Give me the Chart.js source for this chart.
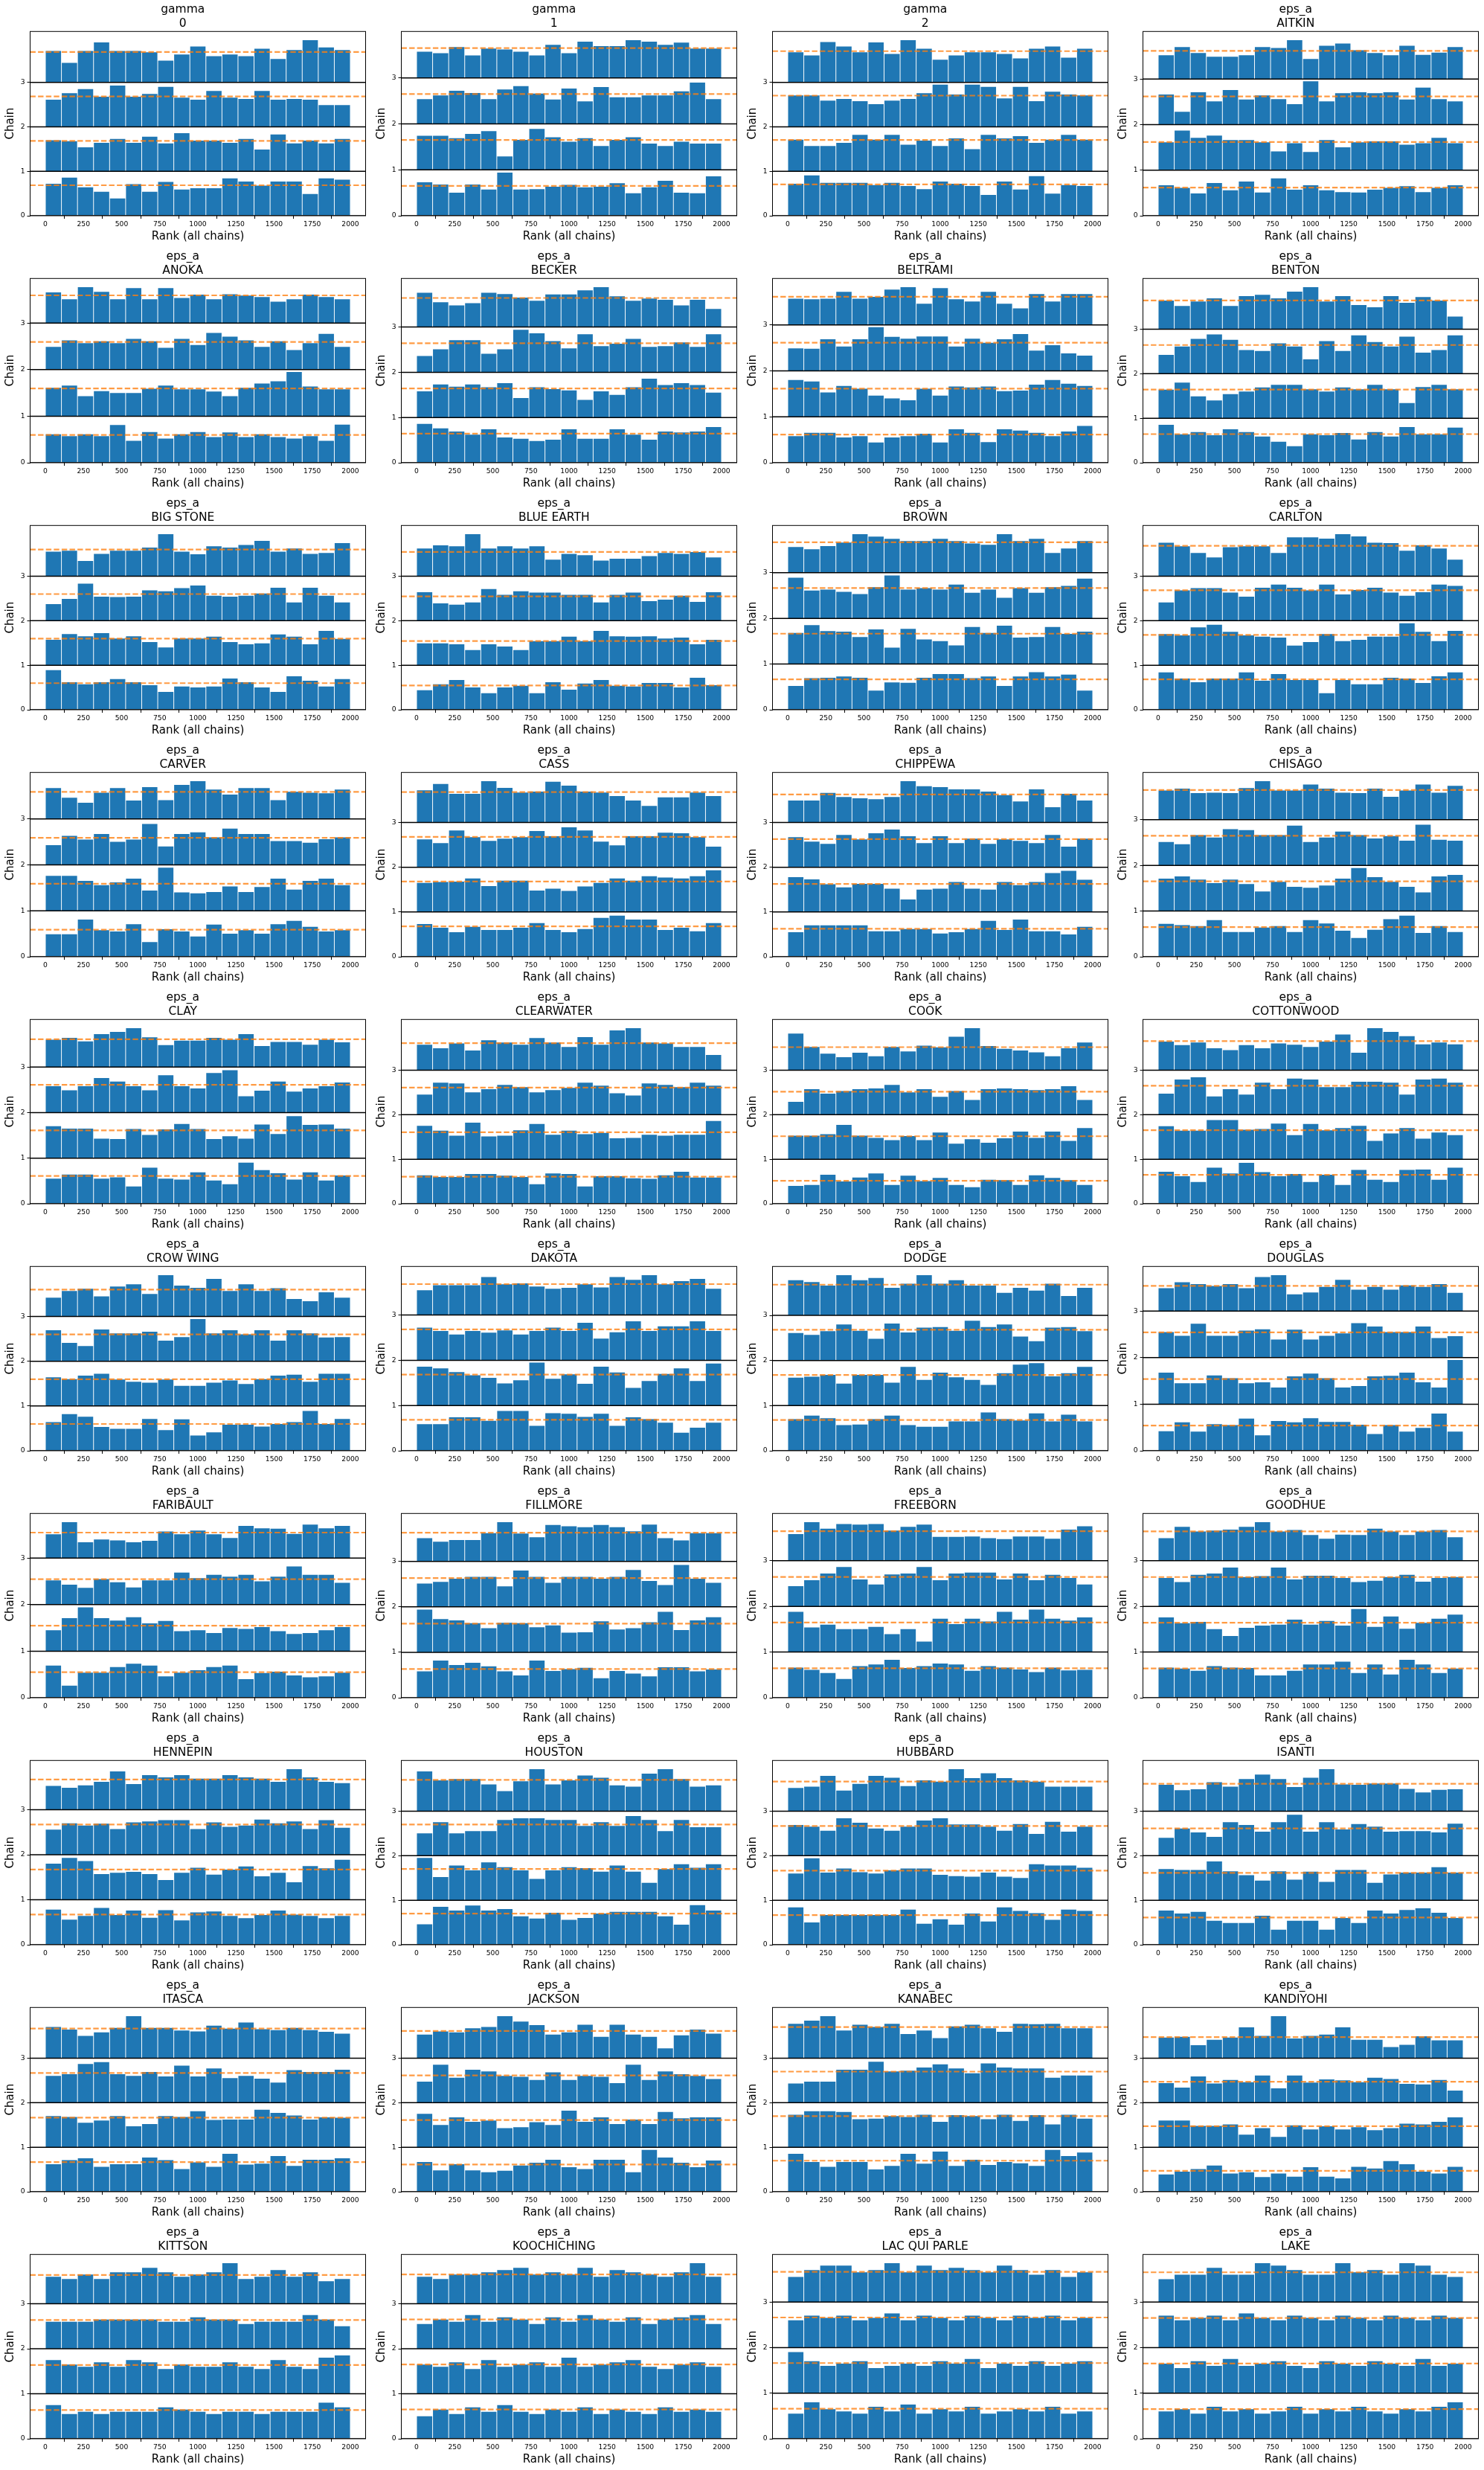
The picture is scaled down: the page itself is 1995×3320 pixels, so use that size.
<!DOCTYPE html>
<html><head><meta charset="utf-8">
<script src="https://cdn.jsdelivr.net/npm/chart.js@4/dist/chart.umd.min.js"></script>
<style>
html,body{margin:0;padding:0;background:#fff;}
#fig{position:relative;width:1995px;height:3320px;background:#fff;}
#fig canvas{position:absolute;}
</style></head><body><div id="fig"></div>
<script>
// ---------------- data ----------------
const rankMax = 2000;          // total draws (4 chains x 500)
const nBins = 19;              // histogram bins
const xTicks = [0, 250, 500, 750, 1000, 1250, 1500, 1750, 2000];
const yTickLabels = ['0', '1', '2', '3'];
const xLabel = 'Rank (all chains)';
const yLabel = 'Chain';

// each array: [chain0, chain1, chain2, chain3] bar heights (in units of chain spacing)
const GAMMA_0 = [
 [0.72,0.86,0.64,0.54,0.39,0.71,0.54,0.76,0.59,0.62,0.62,0.84,0.77,0.68,0.77,0.77,0.49,0.84,0.81],
 [0.70,0.68,0.54,0.64,0.73,0.64,0.78,0.63,0.86,0.69,0.69,0.64,0.73,0.49,0.83,0.63,0.69,0.63,0.73],
 [0.61,0.76,0.85,0.68,0.93,0.68,0.74,0.90,0.66,0.61,0.81,0.66,0.63,0.81,0.61,0.63,0.61,0.49,0.49],
 [0.71,0.44,0.71,0.90,0.71,0.71,0.68,0.49,0.63,0.81,0.59,0.63,0.59,0.76,0.53,0.73,0.95,0.79,0.73]];
const GAMMA_1 = [
 [0.73,0.68,0.50,0.68,0.57,0.94,0.57,0.58,0.63,0.67,0.62,0.63,0.71,0.49,0.62,0.76,0.50,0.49,0.86],
 [0.74,0.74,0.69,0.78,0.84,0.29,0.65,0.89,0.71,0.61,0.69,0.52,0.65,0.71,0.57,0.52,0.61,0.57,0.57],
 [0.54,0.62,0.72,0.67,0.54,0.75,0.82,0.66,0.53,0.77,0.49,0.80,0.58,0.58,0.62,0.62,0.71,0.90,0.54],
 [0.57,0.54,0.67,0.49,0.64,0.62,0.57,0.49,0.72,0.54,0.79,0.69,0.69,0.82,0.79,0.72,0.77,0.64,0.64]];
const GAMMA_2 = [
 [0.72,0.91,0.74,0.74,0.74,0.69,0.74,0.67,0.60,0.77,0.72,0.67,0.47,0.77,0.59,0.89,0.50,0.69,0.67],
 [0.71,0.57,0.57,0.64,0.82,0.71,0.82,0.60,0.69,0.57,0.74,0.50,0.82,0.74,0.79,0.64,0.71,0.82,0.71],
 [0.71,0.71,0.59,0.63,0.58,0.51,0.59,0.63,0.76,0.95,0.73,0.95,0.90,0.64,0.90,0.58,0.79,0.73,0.71],
 [0.68,0.61,0.91,0.81,0.68,0.90,0.64,0.95,0.76,0.51,0.61,0.68,0.68,0.64,0.54,0.76,0.81,0.56,0.76]];
const AITKIN = [
 [0.67,0.61,0.49,0.72,0.56,0.75,0.51,0.82,0.57,0.67,0.56,0.52,0.51,0.57,0.61,0.65,0.52,0.61,0.67],
 [0.61,0.87,0.71,0.76,0.66,0.66,0.61,0.41,0.59,0.40,0.66,0.50,0.61,0.63,0.63,0.56,0.59,0.71,0.59],
 [0.66,0.28,0.71,0.51,0.76,0.55,0.64,0.56,0.45,0.95,0.51,0.69,0.71,0.69,0.71,0.55,0.81,0.56,0.51],
 [0.52,0.70,0.57,0.49,0.49,0.52,0.70,0.68,0.85,0.44,0.73,0.78,0.63,0.57,0.52,0.73,0.53,0.58,0.70]];
const ANOKA = [
 [0.61,0.57,0.61,0.57,0.81,0.47,0.66,0.52,0.61,0.66,0.55,0.65,0.55,0.61,0.55,0.52,0.57,0.47,0.82],
 [0.61,0.66,0.43,0.54,0.50,0.50,0.59,0.66,0.58,0.58,0.53,0.43,0.61,0.70,0.75,0.95,0.64,0.58,0.58],
 [0.49,0.63,0.57,0.61,0.57,0.66,0.61,0.47,0.66,0.53,0.79,0.71,0.63,0.49,0.61,0.42,0.57,0.77,0.49],
 [0.66,0.51,0.77,0.67,0.51,0.75,0.51,0.75,0.54,0.61,0.51,0.62,0.59,0.56,0.46,0.51,0.61,0.56,0.51]];
const BECKER = [
 [0.86,0.76,0.69,0.62,0.74,0.56,0.53,0.48,0.51,0.74,0.53,0.53,0.74,0.62,0.51,0.69,0.67,0.69,0.79],
 [0.58,0.73,0.68,0.73,0.67,0.76,0.43,0.67,0.63,0.60,0.39,0.58,0.50,0.67,0.86,0.72,0.76,0.72,0.55],
 [0.36,0.51,0.71,0.71,0.41,0.51,0.94,0.86,0.69,0.53,0.84,0.58,0.63,0.74,0.56,0.58,0.66,0.56,0.84],
 [0.76,0.55,0.48,0.53,0.76,0.73,0.65,0.58,0.72,0.72,0.81,0.88,0.68,0.58,0.63,0.60,0.48,0.60,0.40]];
const BELTRAMI = [
 [0.58,0.65,0.65,0.55,0.58,0.44,0.55,0.58,0.63,0.44,0.73,0.65,0.45,0.73,0.70,0.65,0.58,0.68,0.80],
 [0.80,0.77,0.53,0.67,0.61,0.46,0.40,0.36,0.61,0.46,0.66,0.64,0.66,0.56,0.57,0.70,0.80,0.72,0.67],
 [0.49,0.48,0.69,0.53,0.69,0.95,0.74,0.70,0.75,0.75,0.53,0.70,0.61,0.69,0.80,0.44,0.56,0.38,0.33],
 [0.57,0.56,0.57,0.72,0.57,0.61,0.77,0.82,0.46,0.80,0.56,0.51,0.72,0.46,0.36,0.67,0.51,0.67,0.67]];
const BENTON = [
 [0.85,0.64,0.69,0.62,0.75,0.69,0.59,0.47,0.37,0.64,0.62,0.67,0.52,0.69,0.59,0.80,0.64,0.64,0.79],
 [0.64,0.80,0.49,0.40,0.54,0.60,0.69,0.75,0.75,0.65,0.60,0.69,0.65,0.75,0.65,0.34,0.70,0.75,0.65],
 [0.42,0.61,0.78,0.88,0.76,0.53,0.51,0.68,0.61,0.32,0.73,0.51,0.86,0.71,0.61,0.83,0.47,0.53,0.86],
 [0.64,0.52,0.62,0.69,0.52,0.74,0.77,0.69,0.84,0.94,0.62,0.74,0.54,0.49,0.74,0.59,0.72,0.64,0.28]];
const BIG_STONE = [
 [0.89,0.62,0.57,0.62,0.69,0.62,0.55,0.40,0.52,0.50,0.52,0.70,0.62,0.50,0.40,0.75,0.65,0.52,0.69],
 [0.57,0.70,0.65,0.72,0.60,0.65,0.52,0.40,0.60,0.60,0.64,0.52,0.47,0.49,0.69,0.64,0.47,0.77,0.59],
 [0.37,0.49,0.83,0.54,0.53,0.54,0.68,0.66,0.73,0.79,0.56,0.54,0.56,0.61,0.74,0.41,0.74,0.56,0.41],
 [0.55,0.57,0.34,0.50,0.57,0.57,0.64,0.94,0.55,0.49,0.67,0.64,0.70,0.79,0.55,0.62,0.50,0.52,0.74]];
const BLUE_EARTH = [
 [0.44,0.57,0.67,0.50,0.37,0.50,0.54,0.37,0.62,0.45,0.59,0.67,0.54,0.52,0.60,0.60,0.50,0.72,0.55],
 [0.49,0.49,0.47,0.34,0.47,0.42,0.34,0.54,0.54,0.64,0.54,0.77,0.65,0.64,0.65,0.60,0.62,0.47,0.57],
 [0.64,0.39,0.36,0.41,0.71,0.58,0.66,0.63,0.63,0.58,0.58,0.41,0.58,0.63,0.44,0.47,0.56,0.42,0.64],
 [0.62,0.69,0.67,0.94,0.62,0.67,0.62,0.67,0.37,0.50,0.47,0.35,0.39,0.39,0.45,0.52,0.50,0.54,0.42]];
const BROWN = [
 [0.52,0.69,0.70,0.73,0.70,0.42,0.60,0.59,0.70,0.78,0.78,0.69,0.73,0.52,0.73,0.82,0.73,0.77,0.42],
 [0.68,0.85,0.72,0.71,0.59,0.76,0.36,0.77,0.54,0.50,0.41,0.81,0.68,0.84,0.58,0.59,0.81,0.66,0.71],
 [0.89,0.61,0.63,0.58,0.53,0.68,0.94,0.63,0.66,0.63,0.74,0.56,0.63,0.45,0.66,0.56,0.68,0.71,0.87],
 [0.56,0.51,0.58,0.66,0.84,0.79,0.74,0.69,0.69,0.74,0.69,0.64,0.61,0.84,0.69,0.74,0.43,0.53,0.69]];
const CARLTON = [
 [0.84,0.70,0.62,0.70,0.70,0.84,0.65,0.80,0.67,0.67,0.37,0.67,0.57,0.57,0.72,0.70,0.60,0.75,0.84],
 [0.70,0.67,0.85,0.91,0.75,0.67,0.64,0.62,0.44,0.52,0.70,0.54,0.57,0.64,0.64,0.94,0.75,0.54,0.77],
 [0.41,0.68,0.73,0.73,0.63,0.54,0.74,0.81,0.74,0.68,0.81,0.59,0.69,0.74,0.63,0.56,0.64,0.81,0.78],
 [0.75,0.67,0.52,0.42,0.65,0.67,0.67,0.52,0.87,0.87,0.84,0.94,0.89,0.75,0.74,0.57,0.69,0.62,0.37]];
const CARVER = [
 [0.49,0.49,0.81,0.58,0.55,0.71,0.32,0.60,0.55,0.44,0.70,0.50,0.58,0.50,0.71,0.78,0.65,0.55,0.58],
 [0.76,0.76,0.65,0.56,0.62,0.70,0.44,0.94,0.40,0.38,0.41,0.53,0.41,0.52,0.70,0.46,0.65,0.70,0.56],
 [0.43,0.63,0.55,0.67,0.50,0.55,0.89,0.40,0.67,0.71,0.60,0.79,0.67,0.67,0.52,0.52,0.48,0.56,0.60],
 [0.67,0.46,0.35,0.57,0.67,0.40,0.69,0.41,0.74,0.82,0.64,0.53,0.67,0.67,0.41,0.59,0.57,0.56,0.64]];
const CASS = [
 [0.73,0.65,0.55,0.67,0.60,0.60,0.65,0.75,0.60,0.55,0.62,0.87,0.92,0.83,0.83,0.60,0.65,0.57,0.75],
 [0.65,0.67,0.68,0.75,0.58,0.70,0.70,0.48,0.52,0.47,0.57,0.65,0.75,0.70,0.80,0.77,0.75,0.80,0.93],
 [0.62,0.54,0.82,0.67,0.59,0.64,0.67,0.81,0.69,0.89,0.82,0.57,0.49,0.69,0.69,0.77,0.76,0.67,0.46],
 [0.72,0.86,0.64,0.64,0.92,0.77,0.67,0.69,0.91,0.82,0.69,0.67,0.59,0.49,0.37,0.56,0.56,0.67,0.59]];
const CHIPPEWA = [
 [0.55,0.70,0.70,0.70,0.70,0.57,0.57,0.62,0.62,0.52,0.55,0.62,0.80,0.60,0.83,0.57,0.57,0.50,0.67],
 [0.78,0.73,0.62,0.55,0.63,0.63,0.52,0.28,0.50,0.52,0.67,0.52,0.50,0.67,0.60,0.67,0.87,0.92,0.72],
 [0.67,0.57,0.52,0.72,0.62,0.76,0.84,0.69,0.54,0.69,0.54,0.64,0.52,0.62,0.59,0.54,0.72,0.46,0.64],
 [0.49,0.49,0.66,0.57,0.54,0.52,0.57,0.92,0.81,0.79,0.74,0.74,0.69,0.61,0.47,0.74,0.34,0.64,0.49]];
const CHISAGO = [
 [0.72,0.69,0.67,0.80,0.54,0.54,0.64,0.67,0.54,0.80,0.73,0.57,0.41,0.59,0.82,0.90,0.52,0.67,0.54],
 [0.71,0.76,0.69,0.61,0.69,0.59,0.43,0.64,0.53,0.51,0.56,0.71,0.94,0.74,0.64,0.53,0.41,0.76,0.79],
 [0.51,0.46,0.66,0.61,0.79,0.77,0.66,0.66,0.87,0.51,0.61,0.74,0.66,0.59,0.64,0.54,0.89,0.56,0.54],
 [0.64,0.68,0.58,0.59,0.58,0.69,0.84,0.64,0.64,0.77,0.68,0.59,0.58,0.68,0.50,0.64,0.77,0.59,0.74]];
const CLAY = [
 [0.55,0.64,0.64,0.55,0.58,0.38,0.79,0.55,0.53,0.69,0.51,0.43,0.90,0.74,0.67,0.53,0.69,0.51,0.62],
 [0.70,0.65,0.65,0.43,0.42,0.64,0.51,0.63,0.75,0.64,0.42,0.48,0.43,0.74,0.53,0.92,0.73,0.74,0.65],
 [0.58,0.49,0.58,0.76,0.68,0.58,0.49,0.82,0.58,0.53,0.87,0.93,0.36,0.48,0.68,0.46,0.53,0.58,0.66],
 [0.60,0.64,0.56,0.72,0.77,0.85,0.65,0.48,0.58,0.58,0.64,0.60,0.72,0.46,0.55,0.55,0.49,0.60,0.54]];
const CLEARWATER = [
 [0.64,0.60,0.60,0.67,0.67,0.63,0.60,0.44,0.68,0.67,0.39,0.62,0.62,0.57,0.56,0.64,0.72,0.59,0.59],
 [0.75,0.64,0.53,0.82,0.51,0.53,0.65,0.79,0.55,0.64,0.56,0.59,0.47,0.48,0.55,0.53,0.55,0.55,0.86],
 [0.45,0.72,0.70,0.50,0.57,0.67,0.62,0.50,0.55,0.60,0.72,0.65,0.48,0.43,0.70,0.67,0.62,0.72,0.65],
 [0.57,0.49,0.60,0.44,0.67,0.62,0.57,0.72,0.62,0.52,0.74,0.57,0.89,0.94,0.62,0.60,0.52,0.52,0.34]];
const COOK = [
 [0.40,0.42,0.65,0.50,0.59,0.68,0.42,0.63,0.51,0.58,0.42,0.37,0.54,0.53,0.42,0.64,0.58,0.53,0.42],
 [0.53,0.53,0.56,0.77,0.53,0.48,0.43,0.52,0.43,0.60,0.35,0.45,0.37,0.47,0.62,0.48,0.62,0.41,0.70],
 [0.29,0.57,0.47,0.53,0.57,0.59,0.67,0.50,0.57,0.40,0.53,0.33,0.57,0.59,0.57,0.55,0.57,0.64,0.33],
 [0.82,0.52,0.37,0.29,0.39,0.31,0.52,0.42,0.55,0.51,0.75,0.94,0.54,0.48,0.44,0.40,0.31,0.49,0.62]];
const COTTONWOOD = [
 [0.72,0.62,0.49,0.81,0.68,0.92,0.71,0.62,0.67,0.49,0.65,0.42,0.76,0.54,0.49,0.76,0.77,0.54,0.81],
 [0.74,0.64,0.64,0.88,0.88,0.66,0.68,0.80,0.54,0.79,0.65,0.70,0.75,0.41,0.58,0.70,0.46,0.60,0.54],
 [0.47,0.79,0.84,0.41,0.57,0.45,0.72,0.57,0.81,0.79,0.62,0.62,0.74,0.74,0.72,0.45,0.79,0.81,0.72],
 [0.64,0.56,0.62,0.49,0.45,0.56,0.49,0.60,0.57,0.52,0.64,0.80,0.39,0.94,0.86,0.76,0.58,0.62,0.58]];
const CROW_WING = [
 [0.64,0.82,0.76,0.53,0.49,0.49,0.71,0.46,0.70,0.34,0.41,0.58,0.58,0.54,0.60,0.64,0.89,0.60,0.71],
 [0.64,0.60,0.68,0.72,0.59,0.54,0.52,0.59,0.45,0.45,0.52,0.57,0.49,0.60,0.68,0.70,0.54,0.72,0.72],
 [0.69,0.41,0.34,0.71,0.62,0.62,0.66,0.46,0.54,0.94,0.62,0.69,0.60,0.69,0.46,0.69,0.62,0.53,0.54],
 [0.42,0.57,0.62,0.45,0.67,0.72,0.50,0.92,0.69,0.64,0.84,0.57,0.72,0.57,0.63,0.39,0.34,0.54,0.42]];
const DAKOTA = [
 [0.59,0.59,0.74,0.74,0.66,0.88,0.88,0.55,0.83,0.82,0.75,0.82,0.55,0.74,0.70,0.62,0.40,0.51,0.62],
 [0.86,0.82,0.74,0.67,0.61,0.49,0.56,0.95,0.59,0.69,0.48,0.86,0.73,0.39,0.54,0.70,0.82,0.54,0.93],
 [0.72,0.65,0.57,0.65,0.61,0.66,0.57,0.65,0.72,0.65,0.83,0.48,0.62,0.86,0.65,0.75,0.75,0.86,0.65],
 [0.55,0.66,0.66,0.66,0.84,0.68,0.70,0.63,0.58,0.60,0.68,0.61,0.84,0.78,0.88,0.68,0.75,0.80,0.58]];
const DODGE = [
 [0.70,0.78,0.72,0.57,0.58,0.70,0.78,0.57,0.53,0.53,0.65,0.65,0.85,0.70,0.67,0.83,0.65,0.80,0.65],
 [0.62,0.64,0.68,0.49,0.68,0.68,0.51,0.86,0.57,0.73,0.63,0.57,0.46,0.72,0.91,0.94,0.65,0.72,0.86],
 [0.61,0.57,0.65,0.80,0.66,0.48,0.82,0.62,0.73,0.74,0.66,0.88,0.74,0.80,0.53,0.43,0.73,0.74,0.65],
 [0.78,0.74,0.66,0.89,0.78,0.83,0.61,0.70,0.89,0.70,0.78,0.66,0.66,0.50,0.61,0.55,0.70,0.43,0.61]];
const DOUGLAS = [
 [0.42,0.61,0.41,0.57,0.55,0.69,0.33,0.64,0.61,0.70,0.62,0.62,0.56,0.36,0.55,0.41,0.49,0.80,0.41],
 [0.68,0.45,0.45,0.62,0.56,0.45,0.47,0.36,0.60,0.66,0.56,0.36,0.39,0.60,0.61,0.68,0.47,0.36,0.95],
 [0.55,0.47,0.73,0.47,0.47,0.58,0.61,0.39,0.60,0.39,0.47,0.52,0.74,0.67,0.55,0.55,0.67,0.42,0.46],
 [0.49,0.62,0.58,0.54,0.58,0.49,0.73,0.77,0.36,0.40,0.52,0.67,0.46,0.52,0.46,0.55,0.52,0.58,0.39]];
const FARIBAULT = [
 [0.69,0.26,0.54,0.54,0.66,0.73,0.69,0.46,0.54,0.59,0.66,0.69,0.40,0.53,0.56,0.48,0.44,0.46,0.54],
 [0.45,0.71,0.94,0.71,0.66,0.73,0.60,0.65,0.43,0.45,0.39,0.50,0.48,0.52,0.43,0.37,0.39,0.45,0.52],
 [0.52,0.43,0.36,0.55,0.48,0.37,0.52,0.52,0.69,0.57,0.64,0.60,0.64,0.50,0.60,0.82,0.64,0.64,0.47],
 [0.51,0.77,0.34,0.40,0.38,0.34,0.37,0.57,0.51,0.59,0.51,0.43,0.69,0.64,0.63,0.52,0.72,0.64,0.69]];
const FILLMORE = [
 [0.58,0.82,0.72,0.77,0.69,0.58,0.49,0.82,0.59,0.63,0.66,0.43,0.59,0.53,0.47,0.67,0.67,0.58,0.62],
 [0.94,0.73,0.70,0.64,0.53,0.65,0.64,0.55,0.59,0.43,0.44,0.68,0.50,0.53,0.66,0.89,0.49,0.70,0.77],
 [0.51,0.55,0.62,0.66,0.66,0.45,0.80,0.66,0.53,0.66,0.66,0.62,0.66,0.81,0.57,0.48,0.92,0.62,0.53],
 [0.51,0.43,0.47,0.47,0.62,0.86,0.61,0.53,0.80,0.77,0.75,0.80,0.75,0.66,0.81,0.51,0.46,0.62,0.62]];
const FREEBORN = [
 [0.66,0.61,0.54,0.41,0.69,0.73,0.83,0.65,0.69,0.75,0.73,0.59,0.69,0.66,0.62,0.56,0.66,0.60,0.61],
 [0.88,0.54,0.60,0.50,0.50,0.55,0.39,0.50,0.23,0.73,0.61,0.73,0.67,0.88,0.71,0.93,0.73,0.69,0.76],
 [0.44,0.57,0.72,0.86,0.59,0.48,0.70,0.72,0.86,0.57,0.72,0.74,0.74,0.59,0.72,0.57,0.69,0.62,0.48],
 [0.58,0.84,0.70,0.80,0.79,0.80,0.66,0.74,0.79,0.52,0.52,0.53,0.49,0.47,0.53,0.53,0.48,0.68,0.75]];
const GOODHUE = [
 [0.66,0.64,0.59,0.69,0.66,0.65,0.49,0.49,0.59,0.73,0.73,0.79,0.54,0.73,0.51,0.83,0.73,0.54,0.64],
 [0.76,0.63,0.66,0.50,0.35,0.53,0.58,0.60,0.71,0.60,0.68,0.58,0.94,0.55,0.78,0.51,0.64,0.73,0.82],
 [0.62,0.53,0.69,0.72,0.85,0.64,0.66,0.85,0.59,0.67,0.67,0.62,0.53,0.56,0.64,0.69,0.54,0.62,0.64],
 [0.49,0.74,0.64,0.66,0.68,0.74,0.84,0.64,0.67,0.56,0.48,0.57,0.56,0.70,0.64,0.56,0.64,0.67,0.51]];
const HENNEPIN = [
 [0.78,0.56,0.64,0.82,0.66,0.76,0.60,0.77,0.54,0.72,0.74,0.64,0.59,0.66,0.76,0.67,0.64,0.59,0.64],
 [0.80,0.93,0.86,0.57,0.60,0.62,0.57,0.44,0.60,0.71,0.56,0.67,0.74,0.52,0.60,0.39,0.75,0.70,0.89],
 [0.56,0.70,0.65,0.69,0.57,0.72,0.74,0.77,0.77,0.57,0.72,0.62,0.65,0.78,0.70,0.74,0.57,0.77,0.60],
 [0.53,0.49,0.54,0.62,0.85,0.57,0.77,0.72,0.77,0.69,0.69,0.77,0.72,0.69,0.62,0.90,0.72,0.62,0.59]];
const HOUSTON = [
 [0.46,0.85,0.77,0.88,0.77,0.80,0.64,0.59,0.72,0.56,0.60,0.70,0.74,0.74,0.74,0.64,0.45,0.89,0.77],
 [0.95,0.52,0.78,0.67,0.85,0.74,0.67,0.48,0.67,0.74,0.72,0.64,0.78,0.64,0.39,0.70,0.81,0.73,0.81],
 [0.50,0.75,0.50,0.55,0.55,0.80,0.84,0.84,0.80,0.80,0.67,0.75,0.67,0.89,0.80,0.55,0.80,0.64,0.64],
 [0.89,0.69,0.72,0.72,0.60,0.45,0.67,0.94,0.60,0.69,0.80,0.75,0.58,0.55,0.84,0.94,0.72,0.55,0.58]];
const HUBBARD = [
 [0.84,0.50,0.67,0.67,0.67,0.67,0.67,0.79,0.47,0.57,0.45,0.70,0.52,0.84,0.76,0.71,0.56,0.79,0.76],
 [0.60,0.94,0.62,0.71,0.63,0.60,0.67,0.71,0.71,0.57,0.54,0.53,0.62,0.53,0.50,0.81,0.78,0.78,0.73],
 [0.69,0.65,0.56,0.84,0.74,0.61,0.56,0.65,0.79,0.84,0.70,0.70,0.65,0.56,0.71,0.49,0.76,0.54,0.65],
 [0.52,0.55,0.79,0.46,0.61,0.79,0.75,0.56,0.69,0.66,0.94,0.74,0.85,0.74,0.69,0.66,0.55,0.55,0.55]];
const ISANTI = [
 [0.77,0.70,0.74,0.54,0.49,0.49,0.65,0.34,0.54,0.54,0.34,0.60,0.49,0.77,0.70,0.78,0.82,0.72,0.60],
 [0.70,0.68,0.68,0.87,0.65,0.56,0.44,0.65,0.46,0.64,0.41,0.68,0.68,0.39,0.58,0.62,0.62,0.74,0.62],
 [0.40,0.61,0.52,0.42,0.75,0.69,0.54,0.75,0.92,0.54,0.75,0.59,0.71,0.65,0.54,0.55,0.55,0.52,0.72],
 [0.59,0.47,0.49,0.65,0.55,0.72,0.82,0.72,0.54,0.75,0.94,0.60,0.59,0.62,0.62,0.50,0.42,0.48,0.49]];
const ITASCA = [
 [0.62,0.71,0.75,0.56,0.62,0.62,0.77,0.71,0.51,0.66,0.56,0.85,0.61,0.63,0.80,0.58,0.72,0.72,0.75],
 [0.70,0.68,0.55,0.60,0.70,0.47,0.52,0.70,0.68,0.81,0.61,0.62,0.62,0.84,0.77,0.71,0.62,0.67,0.66],
 [0.60,0.64,0.87,0.91,0.64,0.60,0.69,0.59,0.83,0.59,0.77,0.55,0.60,0.54,0.45,0.73,0.69,0.69,0.74],
 [0.70,0.64,0.50,0.58,0.68,0.94,0.68,0.68,0.62,0.60,0.73,0.66,0.80,0.65,0.63,0.68,0.63,0.59,0.55]];
const JACKSON = [
 [0.67,0.48,0.62,0.48,0.44,0.47,0.59,0.65,0.72,0.55,0.51,0.72,0.72,0.44,0.94,0.77,0.65,0.55,0.70],
 [0.75,0.50,0.67,0.57,0.60,0.43,0.45,0.56,0.50,0.82,0.57,0.67,0.52,0.62,0.52,0.79,0.65,0.67,0.67],
 [0.47,0.85,0.56,0.74,0.70,0.60,0.58,0.51,0.68,0.51,0.60,0.58,0.44,0.85,0.51,0.70,0.64,0.60,0.53],
 [0.53,0.60,0.58,0.67,0.70,0.94,0.82,0.74,0.53,0.58,0.75,0.48,0.75,0.53,0.48,0.22,0.51,0.64,0.55]];
const KANABEC = [
 [0.85,0.67,0.56,0.67,0.67,0.50,0.58,0.85,0.63,0.90,0.58,0.72,0.60,0.67,0.64,0.58,0.94,0.80,0.88],
 [0.73,0.81,0.81,0.79,0.63,0.64,0.70,0.68,0.73,0.57,0.72,0.70,0.63,0.73,0.59,0.72,0.51,0.73,0.64],
 [0.43,0.47,0.47,0.74,0.74,0.92,0.70,0.72,0.79,0.86,0.77,0.66,0.88,0.79,0.77,0.77,0.56,0.61,0.61],
 [0.77,0.84,0.94,0.62,0.75,0.70,0.77,0.54,0.62,0.45,0.71,0.75,0.67,0.59,0.77,0.76,0.77,0.67,0.67]];
const KANDIYOHI = [
 [0.39,0.45,0.51,0.59,0.41,0.44,0.33,0.41,0.34,0.55,0.34,0.30,0.56,0.52,0.69,0.62,0.45,0.41,0.56],
 [0.60,0.60,0.48,0.48,0.51,0.28,0.43,0.23,0.49,0.40,0.47,0.40,0.45,0.38,0.43,0.53,0.51,0.57,0.67],
 [0.44,0.34,0.59,0.43,0.51,0.46,0.61,0.32,0.61,0.45,0.52,0.50,0.46,0.56,0.53,0.42,0.41,0.51,0.27],
 [0.46,0.48,0.29,0.41,0.46,0.69,0.50,0.94,0.44,0.50,0.53,0.69,0.41,0.41,0.25,0.30,0.49,0.40,0.40]];
const KITTSON = [
 [0.75,0.55,0.60,0.55,0.60,0.60,0.60,0.70,0.65,0.60,0.55,0.60,0.60,0.55,0.60,0.60,0.60,0.80,0.70],
 [0.75,0.65,0.60,0.70,0.60,0.75,0.70,0.55,0.65,0.60,0.60,0.70,0.60,0.55,0.75,0.60,0.55,0.80,0.85],
 [0.60,0.60,0.60,0.65,0.65,0.65,0.65,0.60,0.60,0.70,0.65,0.65,0.55,0.60,0.60,0.60,0.75,0.65,0.50],
 [0.60,0.55,0.65,0.55,0.70,0.70,0.80,0.70,0.60,0.65,0.70,0.90,0.55,0.60,0.75,0.60,0.70,0.50,0.55]];
const KOOCHICHING = [
 [0.50,0.65,0.55,0.70,0.60,0.75,0.60,0.55,0.65,0.60,0.70,0.55,0.65,0.60,0.55,0.70,0.60,0.65,0.60],
 [0.65,0.60,0.70,0.55,0.75,0.60,0.65,0.70,0.60,0.80,0.60,0.65,0.70,0.75,0.60,0.55,0.65,0.70,0.60],
 [0.55,0.65,0.60,0.75,0.60,0.70,0.65,0.55,0.70,0.60,0.75,0.65,0.60,0.70,0.55,0.65,0.70,0.75,0.55],
 [0.60,0.55,0.65,0.65,0.70,0.75,0.80,0.65,0.70,0.65,0.80,0.60,0.75,0.70,0.65,0.60,0.70,0.90,0.60]];
const LAC_QUI_PARLE = [
 [0.55,0.80,0.65,0.60,0.55,0.70,0.60,0.75,0.55,0.65,0.60,0.70,0.55,0.60,0.65,0.60,0.70,0.55,0.60],
 [0.90,0.70,0.60,0.65,0.70,0.55,0.60,0.65,0.60,0.70,0.65,0.75,0.55,0.65,0.60,0.70,0.60,0.65,0.70],
 [0.60,0.70,0.65,0.70,0.60,0.65,0.75,0.60,0.70,0.65,0.60,0.70,0.65,0.60,0.70,0.65,0.70,0.60,0.65],
 [0.55,0.70,0.80,0.80,0.65,0.70,0.85,0.65,0.80,0.70,0.75,0.70,0.65,0.80,0.70,0.60,0.70,0.55,0.65]];
const LAKE = [
 [0.60,0.65,0.55,0.70,0.60,0.65,0.55,0.60,0.70,0.55,0.65,0.60,0.70,0.60,0.55,0.65,0.60,0.70,0.80],
 [0.65,0.55,0.70,0.60,0.75,0.60,0.65,0.70,0.60,0.55,0.70,0.65,0.60,0.70,0.65,0.60,0.75,0.60,0.65],
 [0.70,0.60,0.65,0.70,0.60,0.75,0.65,0.60,0.70,0.65,0.60,0.70,0.65,0.60,0.70,0.65,0.60,0.70,0.65],
 [0.50,0.60,0.60,0.75,0.60,0.60,0.85,0.80,0.70,0.60,0.60,0.85,0.65,0.70,0.60,0.85,0.80,0.60,0.55]];

const panelTitles = [
 ['gamma','0'],['gamma','1'],['gamma','2'],['eps_a','AITKIN'],
 ['eps_a','ANOKA'],['eps_a','BECKER'],['eps_a','BELTRAMI'],['eps_a','BENTON'],
 ['eps_a','BIG STONE'],['eps_a','BLUE EARTH'],['eps_a','BROWN'],['eps_a','CARLTON'],
 ['eps_a','CARVER'],['eps_a','CASS'],['eps_a','CHIPPEWA'],['eps_a','CHISAGO'],
 ['eps_a','CLAY'],['eps_a','CLEARWATER'],['eps_a','COOK'],['eps_a','COTTONWOOD'],
 ['eps_a','CROW WING'],['eps_a','DAKOTA'],['eps_a','DODGE'],['eps_a','DOUGLAS'],
 ['eps_a','FARIBAULT'],['eps_a','FILLMORE'],['eps_a','FREEBORN'],['eps_a','GOODHUE'],
 ['eps_a','HENNEPIN'],['eps_a','HOUSTON'],['eps_a','HUBBARD'],['eps_a','ISANTI'],
 ['eps_a','ITASCA'],['eps_a','JACKSON'],['eps_a','KANABEC'],['eps_a','KANDIYOHI'],
 ['eps_a','KITTSON'],['eps_a','KOOCHICHING'],['eps_a','LAC QUI PARLE'],['eps_a','LAKE']];
const panelCounts = [
 GAMMA_0, GAMMA_1, GAMMA_2, AITKIN, ANOKA, BECKER, BELTRAMI, BENTON,
 BIG_STONE, BLUE_EARTH, BROWN, CARLTON, CARVER, CASS, CHIPPEWA, CHISAGO,
 CLAY, CLEARWATER, COOK, COTTONWOOD, CROW_WING, DAKOTA, DODGE, DOUGLAS,
 FARIBAULT, FILLMORE, FREEBORN, GOODHUE, HENNEPIN, HOUSTON, HUBBARD, ISANTI,
 ITASCA, JACKSON, KANABEC, KANDIYOHI, KITTSON, KOOCHICHING, LAC_QUI_PARLE, LAKE];

// ---------------- drawing ----------------
const FONT = "'DejaVu Sans', 'Liberation Sans', sans-serif";
Chart.defaults.font.family = FONT;
Chart.defaults.color = '#000';

const binWidth = rankMax / nBins;
const binCenters = Array.from({length: nBins}, (_, i) => (i + 0.5) * binWidth);
const xMin = -0.05 * rankMax, xMax = 1.05 * rankMax;

const nCols = 4, cellW = 1995 / 4, cellH = 332;
const fig = document.getElementById('fig');

const framePlugin = {
  id: 'frame',
  afterDraw(chart) {
    const {ctx, chartArea: a} = chart;
    ctx.save();
    ctx.strokeStyle = '#000';
    ctx.lineWidth = 1;
    ctx.strokeRect(a.left, a.top, a.right - a.left, a.bottom - a.top);
    ctx.restore();
  }
};

panelCounts.forEach((counts, p) => {
  const col = p % nCols, row = Math.floor(p / nCols);
  const cv = document.createElement('canvas');
  cv.width = 499; cv.height = 332;
  cv.style.left = Math.round(col * cellW) + 'px';
  cv.style.top = (row * cellH) + 'px';
  cv.style.width = '499px'; cv.style.height = '332px';
  fig.appendChild(cv);

  const all = counts.flat();
  const meanH = all.reduce((s, v) => s + v, 0) / all.length;
  let top = 0;
  counts.forEach((ch, c) => ch.forEach(h => { top = Math.max(top, c + h); }));
  const yMax = 1.05 * top;

  const datasets = [];
  counts.forEach((ch, c) => {
    datasets.push({
      type: 'bar',
      data: ch.map((h, i) => ({x: binCenters[i], y: [c, c + h]})),
      backgroundColor: '#1f77b4',
      borderWidth: 0,
      grouped: false,
      barPercentage: 0.955,
      categoryPercentage: 1,
      order: 3
    });
    datasets.push({
      type: 'line',
      data: [{x: xMin, y: c}, {x: xMax, y: c}],
      borderColor: '#000', borderWidth: 1.5,
      pointRadius: 0, fill: false, tension: 0, order: 2
    });
    datasets.push({
      type: 'line',
      data: [{x: xMin, y: c + meanH}, {x: xMax, y: c + meanH}],
      borderColor: 'rgba(255,127,14,0.78)', borderWidth: 2.2, borderDash: [7.4, 3.2],
      pointRadius: 0, fill: false, tension: 0, order: 1
    });
  });

  new Chart(cv, {
    type: 'bar',
    data: {datasets},
    plugins: [framePlugin],
    options: {
      responsive: false, animation: false, devicePixelRatio: 1,
      layout: {padding: {left: 0, right: 7.5, top: 0, bottom: 0}},
      plugins: {
        legend: {display: false}, tooltip: {enabled: false},
        title: {display: true, text: panelTitles[p], color: '#000',
          font: {family: FONT, size: 15.5, weight: 'normal', lineHeight: 1.2},
          padding: {top: 3.7, bottom: 1.4}}
      },
      scales: {
        x: {
          type: 'linear', min: xMin, max: xMax, offset: false,
          afterBuildTicks: s => { s.ticks = xTicks.map(v => ({value: v})); },
          afterFit: s => { s.height = 42; },
          ticks: {font: {family: FONT, size: 9.2}, color: '#000', padding: 2,
            maxRotation: 0, autoSkip: false, callback: v => String(v)},
          grid: {display: true, drawOnChartArea: false, drawTicks: true, tickLength: 4, color: '#000', lineWidth: 1},
          border: {display: false},
          title: {display: true, text: xLabel, color: '#000',
            font: {family: FONT, size: 15, lineHeight: 1.2}, padding: {top: 0, bottom: 4.5}}
        },
        y: {
          type: 'linear', min: 0, max: yMax, offset: false,
          afterBuildTicks: s => { s.ticks = yTickLabels.map((t, i) => ({value: i})); },
          afterFit: s => { s.width = 40.5; },
          ticks: {font: {family: FONT, size: 9.2}, color: '#000', padding: 3,
            autoSkip: false, callback: (v, i) => yTickLabels[i]},
          grid: {display: true, drawOnChartArea: false, drawTicks: true, tickLength: 4, color: '#000', lineWidth: 1},
          border: {display: false},
          title: {display: true, text: yLabel, color: '#000',
            font: {family: FONT, size: 15, lineHeight: 1.2}, padding: {top: 5, bottom: 0}}
        }
      }
    }
  });
});
</script>
</body></html>
